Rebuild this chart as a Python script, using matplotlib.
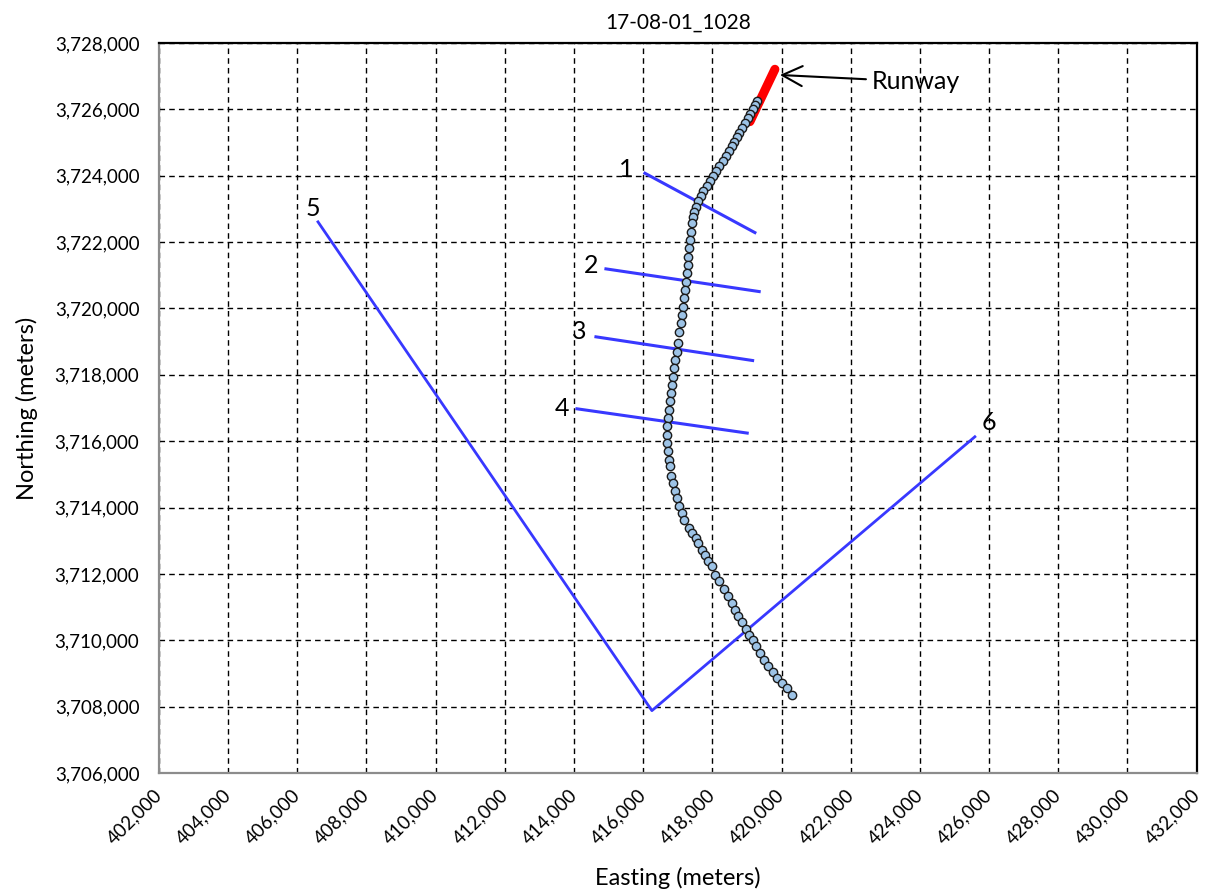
import matplotlib
matplotlib.use("Agg")
import matplotlib.pyplot as plt
from matplotlib.ticker import FuncFormatter

plt.rcParams['font.family'] = ['Lato', 'DejaVu Sans']

# 航迹点（Easting / Northing，单位：米）
track_e = [419297, 419230, 419164, 419086, 419019, 418941, 418846, 418776, 418701, 418623,
           418557, 418487, 418392, 418297, 418198, 418103, 418008, 417930, 417834, 417736,
           417661, 417592, 417525, 417467, 417430, 417401, 417372, 417352, 417323, 417303,
           417285, 417256, 417227, 417207, 417178, 417141, 417112, 417083, 417042, 416996,
           416967, 416927, 416898, 416869, 416840, 416803, 416774, 416745, 416716, 416696,
           416696, 416696, 416725, 416753, 416774, 416803, 416852, 416918, 416967, 417034,
           417112, 417187, 417331, 417418, 417516, 417592, 417690, 417785, 417881, 417979,
           418074, 418198, 418334, 418459, 418557, 418652, 418748, 418846, 418970, 419065,
           419164, 419259, 419375, 419490, 419615, 419742, 419875, 420002, 420146, 420291]
track_n = [3726253, 3726133, 3726003, 3725861, 3725732, 3725581, 3725431, 3725298, 3725160, 3725027,
           3724898, 3724756, 3724596, 3724455, 3724295, 3724154, 3723994, 3723852, 3723693, 3723551,
           3723392, 3723241, 3723069, 3722919, 3722768, 3722569, 3722316, 3722066, 3721816, 3721563,
           3721313, 3721063, 3720810, 3720560, 3720310, 3720057, 3719807, 3719557, 3719304, 3718955,
           3718702, 3718452, 3718202, 3717949, 3717699, 3717449, 3717196, 3716946, 3716696, 3716443,
           3716193, 3715943, 3715690, 3715440, 3715238, 3714937, 3714738, 3714485, 3714286, 3714033,
           3713835, 3713633, 3713383, 3713232, 3713082, 3712931, 3712729, 3712579, 3712398, 3712226,
           3711976, 3711774, 3711545, 3711323, 3711124, 3710922, 3710720, 3710539, 3710341, 3710169,
           3709997, 3709817, 3709618, 3709416, 3709214, 3709033, 3708865, 3708714, 3708564, 3708362]

# 跑道
runway_e = [419086, 419808]
runway_n = [3725630, 3727208]

# 剖面线 1-4：(起点E, 起点N, 终点E, 终点N)
section_e0 = [416051, 414924, 414635, 414086]
section_n0 = [3724075, 3721193, 3719145, 3716976]
section_e1 = [419230, 419354, 419164, 419008]
section_n1 = [3722286, 3720509, 3718431, 3716244]

# 剖面线 5-6（折线）
vline_e = [406601, 416253, 425588]
vline_n = [3722609, 3707880, 3716133]

# 标签位置
label_e = [415500, 414500, 414150, 413650, 406450, 426000]
label_n = [3724200, 3721300, 3719300, 3717000, 3723000, 3716550]
label_txt = ['1', '2', '3', '4', '5', '6']

x_ticks = list(range(402000, 432001, 2000))
y_ticks = list(range(3706000, 3728001, 2000))

fig = plt.figure(figsize=(12.05, 8.92), dpi=100)
ax = fig.add_axes([0.1318, 0.1334, 0.8613, 0.8184])

blue = '#3838FF'
for i in range(len(section_e0)):
    ax.plot([section_e0[i], section_e1[i]], [section_n0[i], section_n1[i]],
            color=blue, lw=2.2, zorder=3)
ax.plot(vline_e, vline_n, color=blue, lw=2.0, zorder=3)

ax.plot(runway_e, runway_n, color='#FF0000', lw=6.5, solid_capstyle='round', zorder=4)
ax.plot(track_e, track_n, 'o', ms=6, mfc='#9DC3E6', mec='#1a1a1a', mew=1.0, zorder=5)

for t, e, n in zip(label_txt, label_e, label_n):
    ax.text(e, n, t, fontsize=18, ha='center', va='center', zorder=6)

ax.annotate('Runway', xy=(419953, 3727036), xytext=(422600, 3726834),
            fontsize=18, ha='left', va='center',
            arrowprops=dict(arrowstyle='->,head_length=0.8,head_width=0.4',
                            color='black', lw=1.5, shrinkA=2, shrinkB=0))

ax.set_xlim(402000, 432000)
ax.set_ylim(3706000, 3728000)
ax.set_xticks(x_ticks)
ax.set_yticks(y_ticks)
fmt = FuncFormatter(lambda v, p: f"{int(v):,}")
ax.xaxis.set_major_formatter(fmt)
ax.yaxis.set_major_formatter(fmt)
ax.tick_params(length=0, labelsize=13.5)
ax.tick_params(axis='y', pad=14)
ax.tick_params(axis='x', pad=14)
for lab in ax.get_xticklabels():
    lab.set_rotation(45)
    lab.set_ha('right')
    lab.set_va('center')
    lab.set_rotation_mode('anchor')

ax.grid(True, color='black', linestyle=(0, (4, 3)), lw=1.0)
ax.set_axisbelow(True)

for s in ['top', 'right']:
    ax.spines[s].set_color('black')
    ax.spines[s].set_linewidth(1.6)
for s in ['left', 'bottom']:
    ax.spines[s].set_color('#8c8c8c')
    ax.spines[s].set_linewidth(1.6)

ax.set_title('17-08-01_1028', fontsize=15, pad=10)
ax.set_xlabel('Easting (meters)', fontsize=17, labelpad=14)
ax.set_ylabel('Northing (meters)', fontsize=17, labelpad=12)

fig.savefig('out.png', dpi=100)
